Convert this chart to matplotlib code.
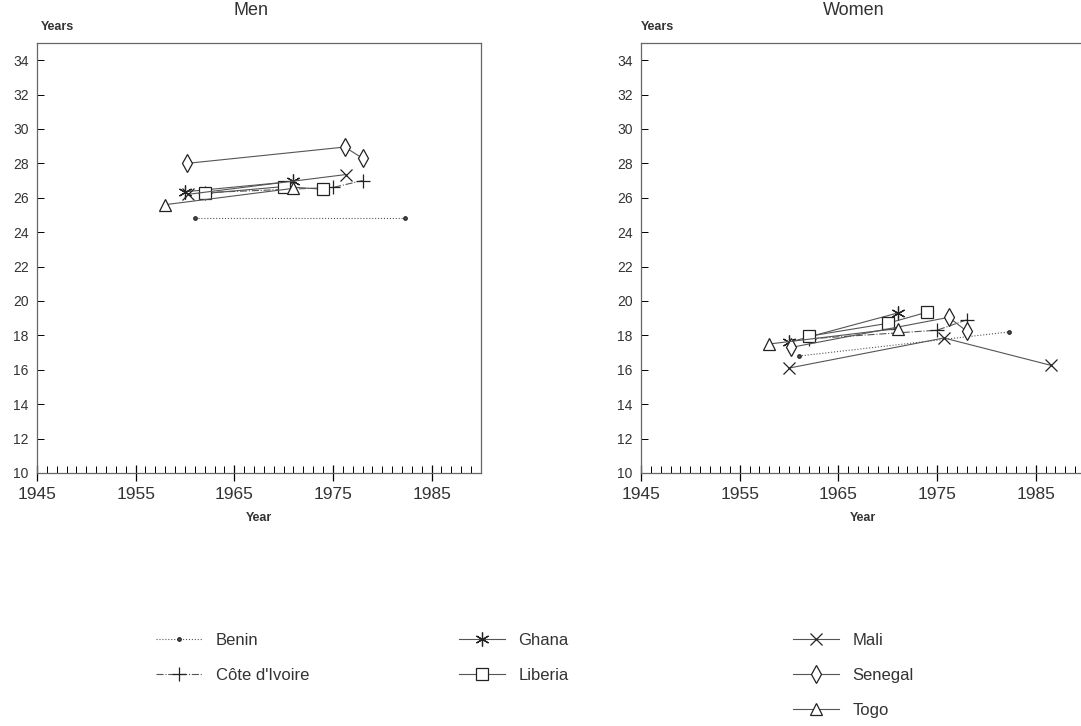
import matplotlib.pyplot as plt
from matplotlib.lines import Line2D

plt.rcParams['font.family'] = ['Liberation Sans', 'DejaVu Sans']

# median age at first marriage, by survey year
benin_year = [1961, 1982.3]
benin_men = [24.8, 24.8]
benin_women = [16.8, 18.2]

ci_year = [1962, 1975, 1978]
ci_men = [26.3, 26.6, 27.0]
ci_women = [17.8, 18.3, 18.9]

ghana_year = [1960, 1971]
ghana_men = [26.35, 26.95]
ghana_women = [17.6, 19.3]

liberia_year = [1962, 1970, 1974]
liberia_men = [26.25, 26.65, 26.5]
liberia_women = [17.95, 18.7, 19.35]

mali_year_men = [1960.3, 1976.3]
mali_men = [26.2, 27.35]
mali_year_women = [1960, 1975.7, 1986.6]
mali_women = [16.1, 17.85, 16.25]

senegal_year = [1960.2, 1976.2, 1978]
senegal_men = [28.0, 28.95, 28.3]
senegal_women = [17.3, 19.05, 18.25]

togo_year = [1958, 1971]
togo_men = [25.6, 26.55]
togo_women = [17.5, 18.4]

y_ticks = list(range(10, 35, 2))
x_ticks = [1945, 1955, 1965, 1975, 1985]

lc = '#555555'
mc = '#222222'
styles = {
    'Benin': dict(ls=':', marker='.', ms=5),
    "Côte d'Ivoire": dict(ls='-.', marker='+', ms=10),
    'Ghana': dict(ls='-', marker=(6, 2, 0), ms=10),
    'Liberia': dict(ls='-', marker='s', ms=8, mfc='white'),
    'Mali': dict(ls='-', marker='x', ms=8),
    'Senegal': dict(ls='-', marker='d', ms=9, mfc='white'),
    'Togo': dict(ls='-', marker='^', ms=9, mfc='white'),
}

fig = plt.figure(figsize=(10.81, 7.26), dpi=100)
ax1 = fig.add_axes([0.0342, 0.3485, 0.4107, 0.5923])
ax2 = fig.add_axes([0.593, 0.3485, 0.4107, 0.5923])

men = [('Benin', benin_year, benin_men), ("Côte d'Ivoire", ci_year, ci_men),
       ('Ghana', ghana_year, ghana_men), ('Liberia', liberia_year, liberia_men),
       ('Mali', mali_year_men, mali_men), ('Senegal', senegal_year, senegal_men),
       ('Togo', togo_year, togo_men)]
women = [('Benin', benin_year, benin_women), ("Côte d'Ivoire", ci_year, ci_women),
         ('Ghana', ghana_year, ghana_women), ('Liberia', liberia_year, liberia_women),
         ('Mali', mali_year_women, mali_women), ('Senegal', senegal_year, senegal_women),
         ('Togo', togo_year, togo_women)]

for ax, data in [(ax1, men), (ax2, women)]:
    for name, xs, ys in data:
        ax.plot(xs, ys, color=lc, lw=0.8, mec=mc, mew=0.9, **styles[name])
    ax.set_xlim(1945, 1990)
    ax.set_ylim(10, 35)
    ax.set_yticks(y_ticks)
    ax.set_yticklabels([str(v) for v in y_ticks], fontsize=10, color='#333333')
    ax.set_xticks(x_ticks)
    ax.set_xticklabels([str(v) for v in x_ticks], fontsize=12.5, color='#333333')
    ax.set_xticks(range(1945, 1991), minor=True)
    ax.tick_params(axis='x', which='major', direction='inout', length=12, width=0.9, pad=4)
    ax.tick_params(axis='x', which='minor', direction='in', length=5, width=0.7)
    ax.tick_params(axis='y', which='major', direction='in', length=5, width=0.7, pad=6)
    for s in ax.spines.values():
        s.set_color('#666666')
        s.set_linewidth(0.9)
    ax.set_xlabel('Year', fontsize=9, fontweight='bold', color='#333333')
    ax.xaxis.set_label_coords(0.5, -0.09)

fig.text(0.038, 0.963, 'Years', fontsize=9, fontweight='bold', color='#333333', va='center')
fig.text(0.593, 0.963, 'Years', fontsize=9, fontweight='bold', color='#333333', va='center')
fig.text(0.232, 0.985, 'Men', fontsize=13, color='#333333', ha='center', va='center')
fig.text(0.79, 0.985, 'Women', fontsize=13, color='#333333', ha='center', va='center')

def handle(name):
    return Line2D([], [], color=lc, lw=0.8, mec=mc, mew=0.9, **styles[name])

cols = [(['Benin', "Côte d'Ivoire"], 0.138), (['Ghana', 'Liberia'], 0.418),
        (['Mali', 'Senegal', 'Togo'], 0.727)]
for names, x0 in cols:
    fig.legend([handle(n) for n in names], names, loc='upper left',
               bbox_to_anchor=(x0, 0.137), frameon=False, fontsize=12,
               handlelength=2.8, labelspacing=1.2, handletextpad=0.8,
               labelcolor='#333333', borderaxespad=0)

fig.savefig('out.png', dpi=100)
